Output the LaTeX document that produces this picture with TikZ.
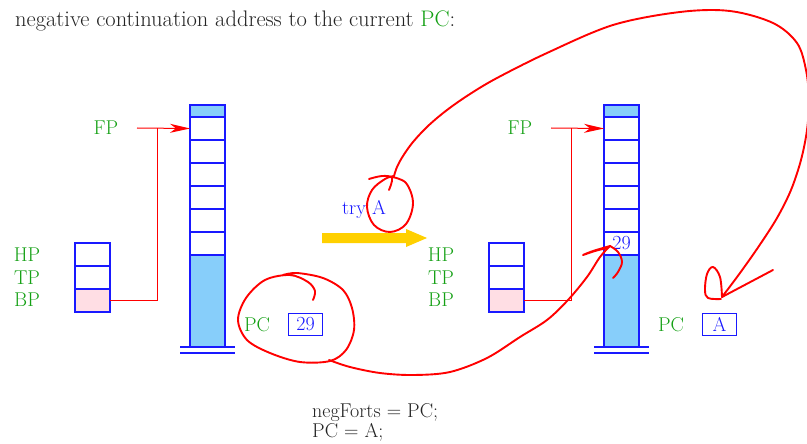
\documentclass[tikz,border=0pt]{standalone}
\usetikzlibrary{arrows.meta}
\definecolor{lgreen}{RGB}{20,160,20}
\definecolor{sblue}{RGB}{25,25,255}
\definecolor{sfill}{RGB}{135,206,250}
\definecolor{pinkf}{RGB}{255,222,228}
\definecolor{ygold}{RGB}{255,208,0}
\definecolor{ink}{RGB}{35,35,35}
\begin{document}
\begin{tikzpicture}[x=1pt,y=-1pt,
  every node/.style={font=\fontsize{20pt}{24pt}\selectfont},
  cell/.style={draw=sblue,line width=1.1pt,minimum width=35pt,minimum height=23pt,inner sep=0pt,outer sep=0pt,anchor=north west},
  capcell/.style={cell,fill=sfill,minimum height=12pt},
  fillcell/.style={cell,fill=sfill,minimum height=92pt},
  pinkcell/.style={cell,fill=pinkf},
  lab/.style={text=lgreen,inner sep=0pt},
  valbox/.style={draw=sblue,line width=1pt,text=sblue,minimum width=34pt,minimum height=22pt,inner sep=0pt},
  baseln/.style={draw=sblue,line width=1.1pt},
  ptr/.style={draw=red,line width=1pt},
  ptrarr/.style={ptr,-{Stealth[length=20pt,width=9pt,inset=6pt]}},
  scrib/.style={draw=red,line width=1.9pt,line cap=round,line join=round}
]
\useasboundingbox (0,0) rectangle (807,444);

% heading text
\node[anchor=base west,inner sep=0pt,text=ink,font=\fontsize{22.5pt}{26pt}\selectfont] (head) at (15,27)
  {negative continuation address to the current \textcolor{lgreen}{PC}:};

% two machine states
\foreach \s/\dx in {L/0,R/414}{
  \begin{scope}[xshift=\dx]
    % big stack
    \node[capcell] (\s top) at (190,105) {};
    \foreach \i in {1,...,6}{
      \node[cell] (\s c\i) at (190,{117+23*(\i-1)}) {};
    }
    \node[fillcell] (\s fill) at (190,255) {};
    \coordinate (\s b1) at (180,347);
    \coordinate (\s b2) at (235,347);
    \coordinate (\s b3) at (180,353);
    \coordinate (\s b4) at (235,353);
    \draw[baseln] (\s b1) -- (\s b2);
    \draw[baseln] (\s b3) -- (\s b4);
    % small stack
    \node[cell] (\s hp) at (75,243) {};
    \node[cell] (\s tp) at (75,266) {};
    \node[pinkcell] (\s bp) at (75,289) {};
    % labels
    \node[lab] (\s HPl) at (27,255) {HP};
    \node[lab] (\s TPl) at (27,278) {TP};
    \node[lab] (\s BPl) at (27,300) {BP};
    \node[lab] (\s FPl) at (106,128) {FP};
    \node[lab] (\s PCl) at (257,325) {PC};
    % pointers
    \coordinate (\s fps) at (137,128);
    \coordinate (\s jn) at (157,128);
    \draw[ptr] (\s bp.east) -| (\s jn);
    \draw[ptrarr] (\s fps) -- (\s c1.west);
  \end{scope}
}

% PC value boxes
\node[valbox] (pcL) at (305.5,324.5) {29};
\node[valbox] (pcR) at (719.5,324.5) {A};
\node[text=sblue,inner sep=0pt] (v29) at (621.5,243.5) {29};

% transition arrow
\node[text=sblue,inner sep=0pt] (try) at (364,209) {try A};
\fill[ygold] (322,233) -- (406,233) -- (406,229) -- (427,238) -- (406,247) -- (406,243) -- (322,243) -- cycle;

% program text
\node[anchor=base west,inner sep=0pt,text=ink] (code1) at (312,417) {negForts = PC;};
\node[anchor=base west,inner sep=0pt,text=ink] (code2) at (312,437) {PC = A;};

% red freehand annotations
\draw[scrib] plot[smooth,tension=0.6] coordinates {
  (369,179) (382,176) (392,178) (389,190)};
\draw[scrib] plot[smooth,tension=0.6] coordinates {
  (392,177) (406,183) (413,203) (406,224) (390,232) (374,225) (367,207) (372,190) (385,179) (394,176)};
\draw[scrib] plot[smooth,tension=0.55] coordinates {
  (394,176) (397,167) (403,156) (413,142) (428,126) (447,110) (470,94) (497,78) (547,53) (613,25) (680,12) (730,11) (773,23) (797,43) (806,70) (809,100) (807,130) (801,160) (791,190) (777,218) (759,246) (740,273) (722,297)};
\draw[scrib] plot[smooth,tension=0.6] coordinates {
  (722,297) (720,277) (713,267) (707,274) (705,290) (708,298) (721,299)};
\draw[scrib] (773,270) -- (722,297);

\draw[scrib] plot[smooth,tension=0.55] coordinates {
  (313,300) (315,291) (308,282) (290,275) (265,280) (246,298) (238,320) (247,340) (270,353) (300,362) (330,361) (346,350) (354,330) (352,308) (343,290) (323,278) (297,273) (283,275)};
\draw[scrib] plot[smooth,tension=0.55] coordinates {
  (329,360) (350,367) (380,373) (413,375) (450,372) (487,358) (520,337) (547,320) (568,300) (587,277) (600,257) (610,246)};
\draw[scrib] plot[smooth,tension=0.5] coordinates {
  (610,246) (593,251) (583,255) (595,251) (607,248)};
\draw[scrib] plot[smooth,tension=0.6] coordinates {
  (610,246) (618,252) (622,262) (618,272) (613,278)};
\end{tikzpicture}
\end{document}
